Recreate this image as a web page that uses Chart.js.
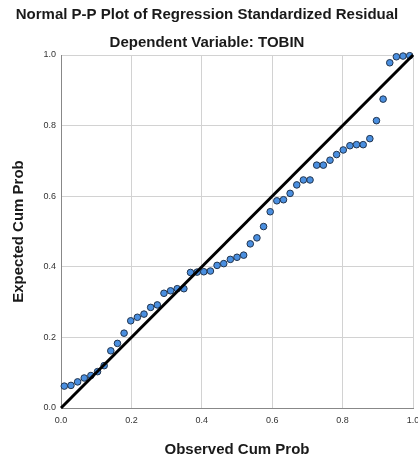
<!DOCTYPE html>
<html lang="en">
<head>
    <meta charset="UTF-8">
    <title>Normal P-P Plot</title>
    <script src="https://cdn.jsdelivr.net/npm/chart.js"></script>
    <style>
        body { margin: 0; background: #fff; }
    </style>
</head>
<body>
    <canvas id="ppChart" width="418" height="460"></canvas>
    <script>
        // observed cumulative probability (x) and expected cumulative probability (y)
        const observedCum = [0.0094, 0.0283, 0.0472, 0.0660, 0.0849, 0.1038, 0.1226, 0.1415, 0.1604, 0.1792,
            0.1981, 0.2170, 0.2358, 0.2547, 0.2736, 0.2925, 0.3113, 0.3302, 0.3491, 0.3679,
            0.3868, 0.4057, 0.4245, 0.4434, 0.4623, 0.4811, 0.5000, 0.5189, 0.5377, 0.5566,
            0.5755, 0.5943, 0.6132, 0.6321, 0.6509, 0.6698, 0.6887, 0.7075, 0.7264, 0.7453,
            0.7642, 0.7830, 0.8019, 0.8208, 0.8396, 0.8585, 0.8774, 0.8962, 0.9151, 0.9340,
            0.9528, 0.9717, 0.9906];
        const expectedCum = [0.062, 0.064, 0.074, 0.085, 0.092, 0.103, 0.120, 0.162, 0.183, 0.212,
            0.247, 0.257, 0.266, 0.285, 0.292, 0.325, 0.332, 0.338, 0.338, 0.384,
            0.385, 0.386, 0.388, 0.404, 0.409, 0.421, 0.427, 0.433, 0.465, 0.482,
            0.514, 0.556, 0.587, 0.590, 0.608, 0.632, 0.646, 0.646, 0.688, 0.688,
            0.702, 0.718, 0.731, 0.743, 0.746, 0.746, 0.763, 0.814, 0.875, 0.978,
            0.995, 0.997, 0.998];
        // reference diagonal
        const diagonalX = [0, 1];
        const diagonalY = [0, 1];

        const font = "Arial, 'Liberation Sans', sans-serif";

        const points = observedCum.map((x, i) => ({ x: x, y: expectedCum[i] }));
        const diagonal = diagonalX.map((x, i) => ({ x: x, y: diagonalY[i] }));

        const ctx = document.getElementById('ppChart').getContext('2d');
        new Chart(ctx, {
            type: 'scatter',
            data: {
                datasets: [{
                    data: diagonal,
                    showLine: true,
                    borderColor: '#000000',
                    borderWidth: 3,
                    pointRadius: 0,
                    clip: false
                }, {
                    data: points,
                    pointRadius: 3.3,
                    pointBackgroundColor: '#4a8fe0',
                    pointBorderColor: '#22344c',
                    pointBorderWidth: 1,
                    clip: false
                }]
            },
            options: {
                responsive: false,
                animation: false,
                devicePixelRatio: 1,
                layout: { padding: { left: 0, right: 4, top: 0, bottom: 0 } },
                plugins: {
                    legend: { display: false },
                    tooltip: { enabled: false },
                    title: {
                        display: true,
                        text: 'Normal P-P Plot of Regression Standardized Residual',
                        color: '#1a1a1a',
                        font: { family: font, size: 15, weight: 'bold', lineHeight: 1.2 },
                        padding: { top: 6, bottom: 2 }
                    },
                    subtitle: {
                        display: true,
                        text: 'Dependent Variable: TOBIN',
                        color: '#1a1a1a',
                        font: { family: font, size: 15, weight: 'bold', lineHeight: 1.2 },
                        padding: { top: 8, bottom: 3 }
                    }
                },
                scales: {
                    x: {
                        type: 'linear',
                        min: 0,
                        max: 1,
                        ticks: {
                            stepSize: 0.2,
                            padding: 7,
                            color: '#333',
                            font: { family: font, size: 9 },
                            callback: v => v.toFixed(1)
                        },
                        grid: { color: '#d2d2d2', drawTicks: false },
                        border: { color: '#888', width: 1 },
                        title: {
                            display: true,
                            text: 'Observed Cum Prob',
                            color: '#1a1a1a',
                            font: { family: font, size: 15, weight: 'bold', lineHeight: 1.2 },
                            padding: { top: 0, bottom: 1.5 }
                        },
                        afterFit: s => { s.height = 52; s.paddingRight = 0; s.paddingLeft = 0; }
                    },
                    y: {
                        type: 'linear',
                        min: 0,
                        max: 1,
                        ticks: {
                            stepSize: 0.2,
                            padding: 5,
                            color: '#333',
                            font: { family: font, size: 9 },
                            callback: v => v.toFixed(1)
                        },
                        grid: { color: '#d2d2d2', drawTicks: false },
                        border: { color: '#888', width: 1 },
                        title: {
                            display: true,
                            text: 'Expected Cum Prob',
                            color: '#1a1a1a',
                            font: { family: font, size: 15, weight: 'bold', lineHeight: 1.2 },
                            padding: { top: 9.5, bottom: 0 }
                        },
                        afterFit: s => { s.width = 61; s.paddingTop = 0; s.paddingBottom = 0; }
                    }
                }
            }
        });
    </script>
</body>
</html>
